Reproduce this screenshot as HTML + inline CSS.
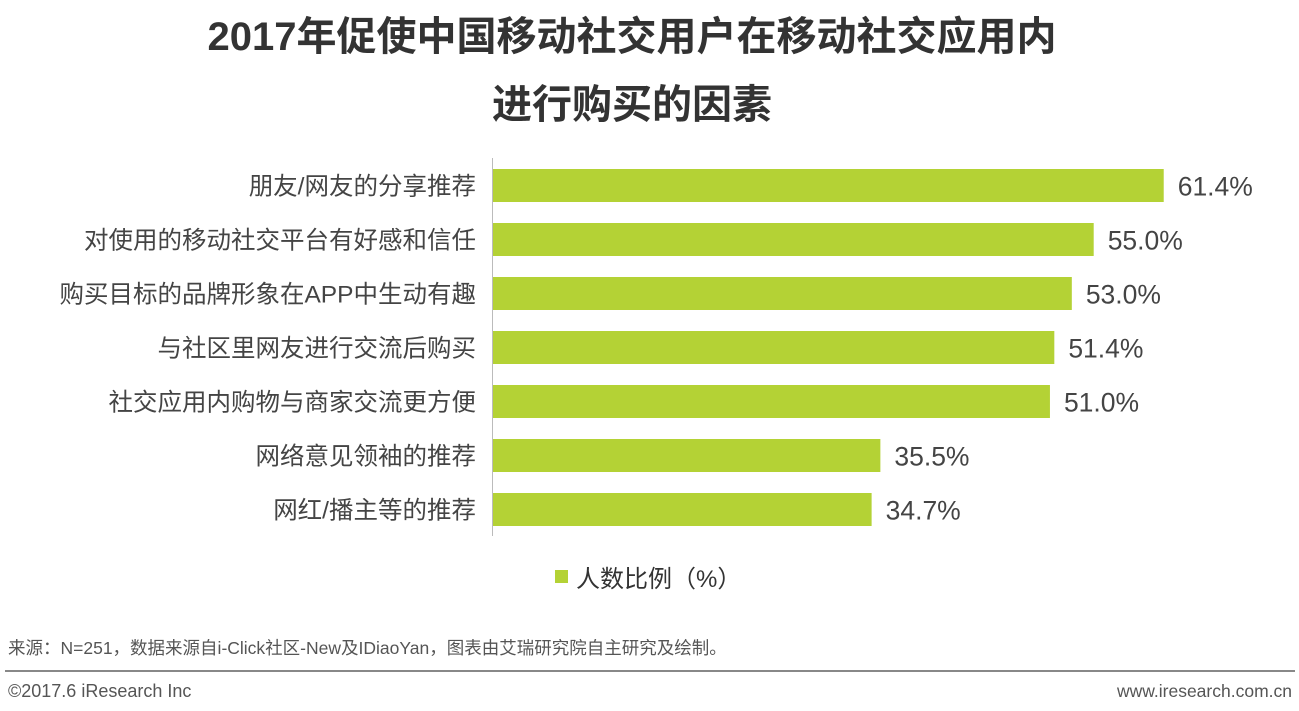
<!DOCTYPE html>
<html><head><meta charset="utf-8">
<style>
body{margin:0;background:#fff;width:1299px;height:706px;overflow:hidden;font-family:"Liberation Sans","Noto Sans CJK SC",sans-serif;}
svg text{font-family:"Liberation Sans","Noto Sans CJK SC",sans-serif;}
</style></head>
<body>
<svg id="chart" width="1299" height="706" xmlns="http://www.w3.org/2000/svg">
<text x="632" y="50" text-anchor="middle" font-size="40" font-weight="bold" fill="#333">2017年促使中国移动社交用户在移动社交应用内</text>
<text x="632" y="118" text-anchor="middle" font-size="40" font-weight="bold" fill="#333">进行购买的因素</text>
<line x1="492.5" y1="158" x2="492.5" y2="536" stroke="#bbb" stroke-width="1"/>
<g id="bars"></g>
<rect x="555" y="570" width="13" height="13" fill="#b4d235"/>
<text x="576" y="587" font-size="24" fill="#333">人数比例（%）</text>
<text x="8" y="654" font-size="17.5" fill="#555">来源：N=251，数据来源自i-Click社区-New及IDiaoYan，图表由艾瑞研究院自主研究及绘制。</text>
<line x1="5" y1="671" x2="1295" y2="671" stroke="#888" stroke-width="2"/>
<text x="8" y="697" font-size="18" fill="#555">©2017.6 iResearch Inc</text>
<text x="1292" y="697" text-anchor="end" font-size="17.5" fill="#555">www.iresearch.com.cn</text>
</svg>
<script>
const categories=["朋友/网友的分享推荐","对使用的移动社交平台有好感和信任","购买目标的品牌形象在APP中生动有趣","与社区里网友进行交流后购买","社交应用内购物与商家交流更方便","网络意见领袖的推荐","网红/播主等的推荐"];
const values=[61.4,55.0,53.0,51.4,51.0,35.5,34.7];
const valueLabels=["61.4%","55.0%","53.0%","51.4%","51.0%","35.5%","34.7%"];
const x0=492, pxPer=10.94, top0=169, pitch=54, bh=33;
const xs=v=>x0+v*pxPer;
const g=document.getElementById('bars');
const NS="http://www.w3.org/2000/svg";
categories.forEach((c,i)=>{
  const y=top0+i*pitch;
  const r=document.createElementNS(NS,'rect');
  
  
  r.setAttribute('x',x0+1);r.setAttribute('y',y);r.setAttribute('width',xs(values[i])-x0-1);r.setAttribute('height',bh);r.setAttribute('fill','#b4d235');
  g.appendChild(r);
  const t=document.createElementNS(NS,'text');
  
  
  t.setAttribute('x',476);t.setAttribute('y',y+bh/2+9);t.setAttribute('text-anchor','end');t.setAttribute('font-size','24.5');t.setAttribute('fill','#444');
  t.textContent=c;g.appendChild(t);
  const v=document.createElementNS(NS,'text');
  
  
  v.setAttribute('x',xs(values[i])+14);v.setAttribute('y',y+bh/2+10);v.setAttribute('font-size','26.5');v.setAttribute('fill','#444');
  v.textContent=valueLabels[i];g.appendChild(v);
});
</script>
</body></html>
